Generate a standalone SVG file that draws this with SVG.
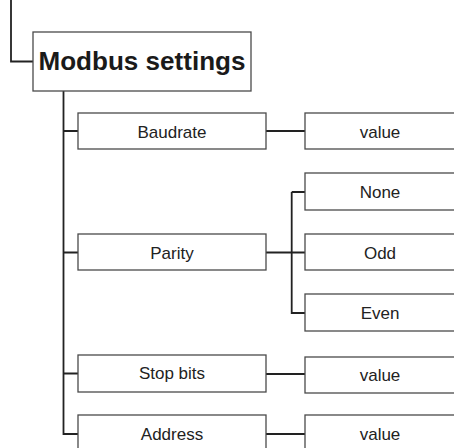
<svg xmlns="http://www.w3.org/2000/svg" width="454" height="448" viewBox="0 0 454 448">
<style>
.box{fill:#fff;stroke:#4a4a4a;stroke-width:1.3}
.ln{fill:none;stroke:#222;stroke-width:1.8}
.t{font-family:"Liberation Sans",Arial,sans-serif;font-size:17px;fill:#222;text-anchor:middle}
.title{font-family:"Liberation Sans",Arial,sans-serif;font-size:25px;font-weight:bold;fill:#1a1a1a;text-anchor:middle}
</style>
<rect width="454" height="448" fill="#fff"/>
<g id="connectors">
<path class="ln" d="M11,0 V61.5 H33"/>
<path class="ln" d="M63.5,91 V434 H78"/>
<path class="ln" d="M63.5,131 H78 M63.5,252.5 H78 M63.5,373.5 H78"/>
<path class="ln" d="M266,131 H305"/>
<path class="ln" d="M266,252.5 H305 M291.7,192 V313 H305 M291.7,192 H305"/>
<path class="ln" d="M266,374 H305"/>
<path class="ln" d="M266,434 H305"/>
</g>
<g id="modbus-settings"><rect class="box" x="33" y="32" width="218" height="59"/><text class="title" x="142" y="69.5" textLength="207" lengthAdjust="spacingAndGlyphs">Modbus settings</text></g>
<g id="baudrate"><rect class="box" x="78" y="113" width="188" height="36"/><text class="t" x="172" y="137.5">Baudrate</text></g>
<g id="baudrate-value"><rect class="box" x="305" y="113" width="152" height="36"/><text class="t" x="380" y="137.5">value</text></g>
<g id="parity"><rect class="box" x="78" y="234" width="188" height="36"/><text class="t" x="172" y="258.5">Parity</text></g>
<g id="none"><rect class="box" x="305" y="173" width="152" height="37"/><text class="t" x="380" y="198">None</text></g>
<g id="odd"><rect class="box" x="305" y="234" width="152" height="36"/><text class="t" x="380" y="258.5">Odd</text></g>
<g id="even"><rect class="box" x="305" y="294" width="152" height="37"/><text class="t" x="380" y="319">Even</text></g>
<g id="stop-bits"><rect class="box" x="78" y="355" width="188" height="37"/><text class="t" x="172" y="379">Stop bits</text></g>
<g id="stop-bits-value"><rect class="box" x="305" y="357" width="152" height="36"/><text class="t" x="380" y="381">value</text></g>
<g id="address"><rect class="box" x="78" y="415" width="188" height="40"/><text class="t" x="172" y="439.5">Address</text></g>
<g id="address-value"><rect class="box" x="305" y="415" width="152" height="40"/><text class="t" x="380" y="439.5">value</text></g>
</svg>
